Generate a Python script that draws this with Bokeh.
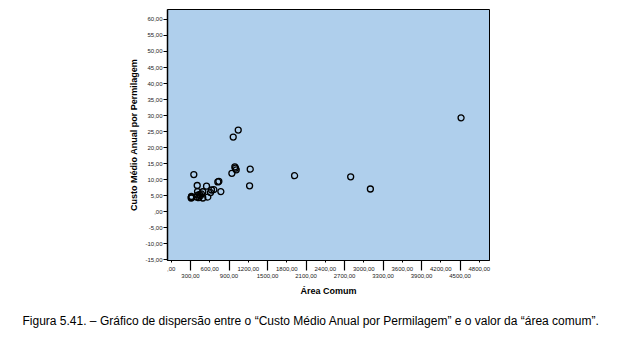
from bokeh.plotting import figure
from bokeh.models import Range1d, FixedTicker, LinearAxis, Title
from bokeh.embed import file_html
from bokeh.resources import INLINE

# data
area_comum = [310, 315, 318, 312, 351, 393, 404, 409, 413, 430, 445, 455, 470, 491, 491,
              549, 569, 611, 627, 663, 725, 741, 772, 944, 965, 990, 1000, 1012, 1043,
              1220, 1230, 1921, 2795, 3102, 4515]
custo_medio = [4.3, 4.8, 4.6, 4.5, 11.6, 4.6, 8.2, 6.3, 5.2, 4.4, 5.4, 5.0, 5.6, 4.3, 6.25,
               8.0, 4.6, 6.0, 6.8, 6.9, 9.3, 9.5, 6.3, 12.0, 23.3, 14.0, 13.6, 13.1, 25.5,
               8.1, 13.3, 11.25, 10.9, 7.1, 29.3]

x_ticks_odd = [300, 900, 1500, 2100, 2700, 3300, 3900, 4500]
x_ticks_even = [0, 600, 1200, 1800, 2400, 3000, 3600, 4200, 4800]
y_ticks = [-15, -10, -5, 0, 5, 10, 15, 20, 25, 30, 35, 40, 45, 50, 55, 60]


def fmt(v):
    if v == 0:
        return ",00"
    return f"{v:.2f}".replace(".", ",")


FONT = "Liberation Sans"

p = figure(width=618, height=351, output_backend="svg", toolbar_location=None,
           x_range=Range1d(-59, 4958), y_range=Range1d(-15.2, 63.1),
           min_border_left=167, min_border_right=129, min_border_top=9, min_border_bottom=91)
p.background_fill_color = "#AFCFEC"
p.border_fill_color = "white"
p.outline_line_color = "black"
p.outline_line_width = 1
p.grid.visible = False

p.scatter(area_comum, custo_medio, size=6, fill_color=None, line_color="black", line_width=1.3)

# y axis
ya = p.yaxis[0]
ya.ticker = FixedTicker(ticks=y_ticks)
ya.major_label_overrides = {v: fmt(v) for v in y_ticks}
ya.minor_tick_line_color = None
ya.major_tick_in = 0
ya.major_tick_out = 4
ya.major_tick_line_color = "black"
ya.major_label_standoff = 1
ya.major_label_text_font = FONT
ya.major_label_text_font_size = "6px"
ya.major_label_text_color = "#222222"
ya.axis_line_width = 1.5
ya.axis_label = "Custo Médio Anual por Permilagem"
ya.axis_label_text_font = FONT
ya.axis_label_text_font_size = "9px"
ya.axis_label_text_font_style = "bold"
ya.axis_label_text_color = "black"
ya.axis_label_standoff = 3

# x axis 1: tick marks only (long at odd positions, short at even)
xa = p.xaxis[0]
xa.ticker = FixedTicker(ticks=x_ticks_odd, minor_ticks=x_ticks_even)
xa.major_label_overrides = {v: " " for v in x_ticks_odd}
xa.major_label_text_font_size = "0px"
xa.major_label_standoff = 0
xa.major_tick_in = 0
xa.major_tick_out = 10
xa.major_tick_line_color = "black"
xa.major_tick_line_width = 1.2
xa.minor_tick_in = 0
xa.minor_tick_out = 2
xa.minor_tick_line_color = "black"
xa.axis_line_width = 1
xa.axis_line_color = "black"

# x axis 2: staggered labels (even on first row, odd on second row)
all_ticks = sorted(x_ticks_even + x_ticks_odd)
labels = {v: fmt(v) for v in x_ticks_even}
labels.update({v: "\n" + fmt(v) for v in x_ticks_odd})
xb = LinearAxis(ticker=FixedTicker(ticks=all_ticks), major_label_overrides=labels)
xb.axis_line_color = None
xb.major_tick_line_color = None
xb.minor_tick_line_color = None
xb.major_tick_in = 0
xb.major_tick_out = 0
xb.major_label_standoff = -5
xb.major_label_text_font = FONT
xb.major_label_text_font_size = "6px"
xb.major_label_text_color = "#222222"
xb.axis_label = "Área Comum"
xb.axis_label_text_font = FONT
xb.axis_label_text_font_size = "9px"
xb.axis_label_text_font_style = "bold"
xb.axis_label_text_color = "black"
xb.axis_label_standoff = 4
p.add_layout(xb, "below")

caption = Title(text="Figura 5.41. \u2013 Gráfico de dispersão entre o \u201cCusto Médio Anual por Permilagem\u201d e o valor da \u201cárea comum\u201d.",
                align="left", offset=-145, standoff=26,
                text_font=FONT, text_font_size="12px", text_font_style="normal", text_color="black")
p.add_layout(caption, "below")

open("out.html", "w").write(file_html(p, INLINE))
